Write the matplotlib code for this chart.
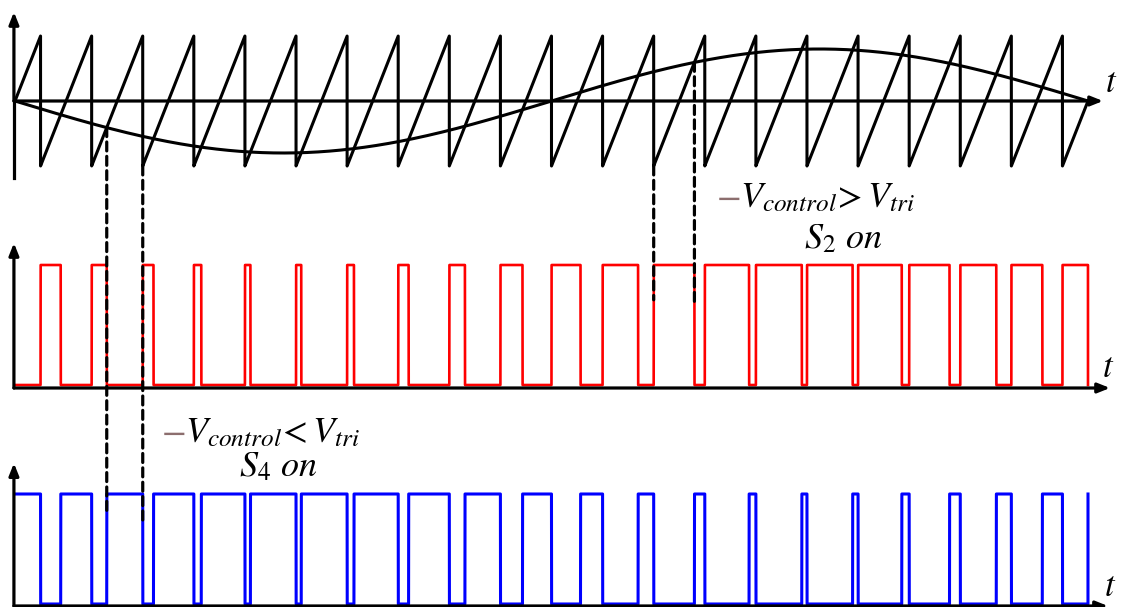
import numpy as np
import matplotlib.pyplot as plt
from matplotlib.patches import ConnectionPatch

plt.rcParams["mathtext.fontset"] = "stix"

# sawtooth carrier against one cycle of -V_control
n_carrier = 21       # carrier periods per reference cycle
m_a = 0.8            # reference amplitude / carrier amplitude

# dashed guides: (edge kind, carrier ramp index, lower panel, end level)
guide_kind = ["cross", "drop", "drop", "cross"]
guide_ramp = [2, 2, 12, 13]
guide_panel = ["s4", "s4", "s2", "s2"]
guide_end = [0.84, 0.72, 0.71, 0.68]

W, H = 1123, 607
T = 1.0 / n_carrier
t = np.linspace(0, 1, 40001)
v_tri = 2 * np.mod(t / T + 0.5, 1.0) - 1
v_ctrl = -m_a * np.sin(2 * np.pi * t)
s2 = (v_ctrl > v_tri + 1e-9).astype(float)
s4 = 1 - s2


def ramp_crossing(k):
    lo, hi = (k - 0.5) * T, (k + 0.5) * T
    idx = np.where((t > lo) & (t < hi) & (v_tri >= v_ctrl))[0]
    return t[idx[0]]


fig = plt.figure(figsize=(W / 100, H / 100), dpi=100)
xlim = (-15 / 1073, 1108 / 1073)


def panel(top_px, bot_px, ylim):
    ax = fig.add_axes([0, 1 - bot_px / H, 1, (bot_px - top_px) / H])
    ax.set_xlim(xlim)
    ax.set_ylim(ylim)
    ax.axis("off")
    return ax


def axes_arrows(ax, y0, x_tip, y_tip):
    kw = dict(arrowstyle="-|>,head_length=0.55,head_width=0.22", lw=2.3,
              color="black", mutation_scale=13, shrinkA=0, shrinkB=0)
    ax.annotate("", xy=(x_tip, y0), xytext=(-0.001, y0),
                arrowprops=kw, annotation_clip=False)
    ax.annotate("", xy=(-0.001, y_tip), xytext=(-0.001, y0),
                arrowprops=kw, annotation_clip=False)


# carrier and reference
ax1 = panel(0, 190, (-89 / 65, 101 / 65))
ax1.plot(t, v_tri, color="black", lw=2.2)
ax1.plot(t, v_ctrl, color="black", lw=2.2)
ax1.plot([-0.001, -0.001], [0, -1.185], color="black", lw=2.3)
axes_arrows(ax1, 0, 1.014, 1.369)
ax1.text(1.022, 0.30, "$t$", fontsize=25, ha="center", va="center")

# S2 gate signal
ax2 = panel(235, 400, (-0.125, 1.25))
ax2.plot(t, s2, color="#ff0000", lw=1.9)
axes_arrows(ax2, -0.025, 1.0205, 1.183)
ax2.text(1.019, 0.15, "$t$", fontsize=25, ha="center", va="center")

# S4 gate signal
ax3 = panel(450, 607, (-3 / 110, 154 / 110))
ax3.plot(t, s4, color="#0000ff", lw=2.2)
axes_arrows(ax3, -0.018, 1.0186, 1.28)
ax3.text(1.021, 0.16, "$t$", fontsize=25, ha="center", va="center")

# dashed guides from the carrier down to the gate signals
lower = {"s2": ax2, "s4": ax3}
for kind, k, pan, y_end in zip(guide_kind, guide_ramp, guide_panel, guide_end):
    if kind == "drop":
        tx = (k + 0.5) * T
        y_top = -1.0
    else:
        tx = ramp_crossing(k)
        y_top = -m_a * np.sin(2 * np.pi * tx)
    con = ConnectionPatch(xyA=(tx, y_top), coordsA=ax1.transData,
                          xyB=(tx, y_end), coordsB=lower[pan].transData,
                          color="black", lw=2.3, linestyle=(0, (2.8, 1.7)),
                          zorder=10)
    fig.add_artist(con)


# condition labels
def label(x_px, y_px, cond):
    fig.text(x_px / W, 1 - y_px / H, "$-$", fontsize=26, color="#8c6e6e",
             ha="right", va="center")
    fig.text(x_px / W, 1 - y_px / H, cond, fontsize=26, ha="left",
             va="center")


label(740, 197, r"$V_{control}\!> V_{tri}$")
fig.text(843 / W, 1 - 238 / H, r"$S_2\ on$", fontsize=26, ha="center",
         va="center")
label(185, 432, r"$V_{control}\!< V_{tri}$")
fig.text(278 / W, 1 - 466 / H, r"$S_4\ on$", fontsize=26, ha="center",
         va="center")

fig.savefig("out.png", dpi=100, facecolor="white")
